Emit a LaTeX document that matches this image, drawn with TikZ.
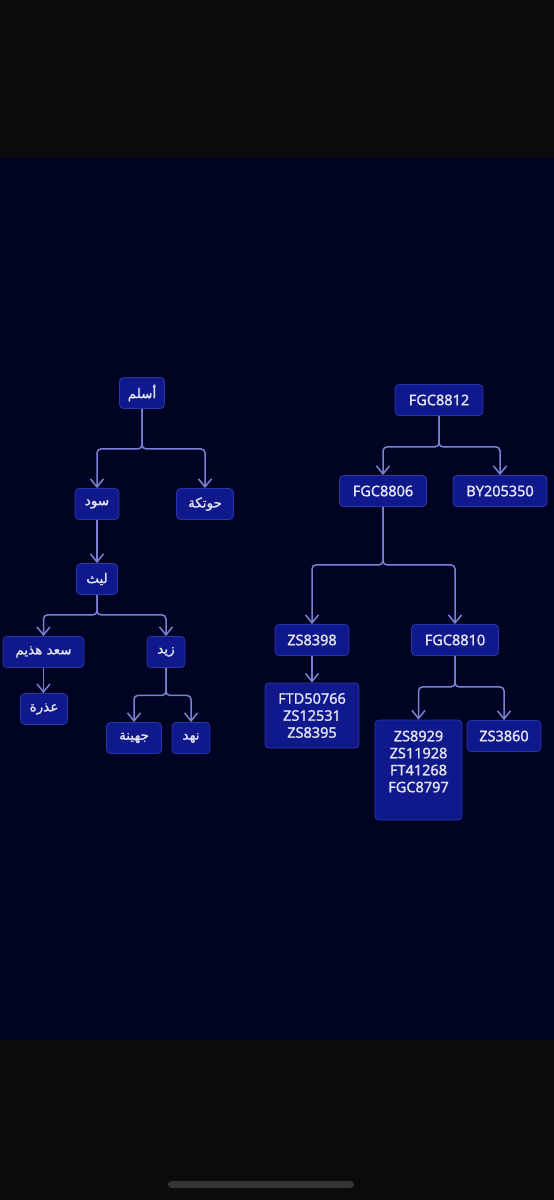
\documentclass[tikz,border=0pt]{standalone}
\usepackage{fontspec}
\setmainfont{Noto Sans}[FakeBold=1.2]
\newfontfamily\arabicfont[Script=Arabic,FakeBold=1.2]{DejaVu Sans}
\TeXXeTstate=1
\usetikzlibrary{arrows.meta}
\definecolor{screengrey}{HTML}{0B0B0B}
\definecolor{navybg}{HTML}{000322}
\definecolor{boxblue}{HTML}{10198C}
\definecolor{boxedge}{HTML}{2A36A8}
\definecolor{linkblue}{HTML}{7A82D4}
\definecolor{labelgrey}{HTML}{E4E4F2}
\definecolor{homebar}{HTML}{343434}
\newcommand{\arname}[1]{{\arabicfont\fontsize{13.5}{17}\selectfont\beginR #1\endR}}
\tikzstyle{hap} = [rectangle, rounded corners=4pt, minimum height=31pt, inner xsep=4pt, text centered, align=center, draw=boxedge, fill=boxblue, text=labelgrey, font=\fontsize{14.5}{17}\selectfont, line width=0.8pt]
\tikzstyle{arrow} = [draw=linkblue, line width=1.5pt, rounded corners=4pt, -{Straight Barb[length=8pt,width=13pt]}]

\begin{document}
\begin{tikzpicture}[x=1pt, y=-1pt]
	%screen
	\fill [screengrey] (0,0) rectangle (554,1200);
	\fill [navybg] (0,158) rectangle (554,1040);
	\fill [homebar, rounded corners=3.5pt] (168,1181) rectangle (354,1188);
	%left tree
	\node (aslam) [hap, minimum width=45pt] at (142,393) {\arname{أسلم}};
	\node (sawd) [hap, minimum width=44pt] at (97,504) {\arname{سود}};
	\node (hawtaka) [hap, minimum width=57pt] at (205,504) {\arname{حوتكة}};
	\node (layth) [hap, minimum width=41pt] at (97,579) {\arname{ليث}};
	\node (saad) [hap, minimum width=81pt] at (43.5,652) {\arname{سعد هذيم}};
	\node (zayd) [hap, minimum width=38pt] at (166,652) {\arname{زيد}};
	\node (udhra) [hap, minimum width=47pt] at (44,709) {\arname{عذرة}};
	\node (juhayna) [hap, minimum width=55pt] at (134,738) {\arname{جهينة}};
	\node (nahd) [hap, minimum width=38pt] at (191,738) {\arname{نهد}};
	%right tree
	\node (fgc8812) [hap, minimum width=88pt] at (439,400) {FGC8812};
	\node (fgc8806) [hap, minimum width=87pt] at (383,491) {FGC8806};
	\node (by205350) [hap, minimum width=94pt] at (500,491) {BY205350};
	\node (zs8398) [hap, minimum width=74pt] at (312,640) {ZS8398};
	\node (fgc8810) [hap, minimum width=87pt] at (455,640) {FGC8810};
	\node (ftd50766) [hap, minimum width=94pt, minimum height=65pt] at (312,715.5) {FTD50766\\ZS12531\\ZS8395};
	\node (zs8929) [hap, minimum width=87pt, minimum height=100pt] at (418.5,770) {ZS8929\\ZS11928\\FT41268\\FGC8797\\\mbox{}};
	\node (zs3860) [hap, minimum width=74pt] at (504,736) {ZS3860};
	%lines
	\draw [arrow] (aslam.south) -- ++(0,40) -| (sawd.north);
	\draw [arrow] (aslam.south) -- ++(0,40) -| (hawtaka.north);
	\draw [arrow] (sawd) -- (layth);
	\draw [arrow] (layth.south) -- ++(0,20) -| (saad.north);
	\draw [arrow] (layth.south) -- ++(0,20) -| (zayd.north);
	\draw [arrow] (saad) -- (saad.south |- udhra.north);
	\draw [arrow] (zayd.south) -- ++(0,27.5) -| (juhayna.north);
	\draw [arrow] (zayd.south) -- ++(0,27.5) -| (nahd.north);
	\draw [arrow] (fgc8812.south) -- ++(0,31) -| (fgc8806.north);
	\draw [arrow] (fgc8812.south) -- ++(0,31) -| (by205350.north);
	\draw [arrow] (fgc8806.south) -- ++(0,58) -| (zs8398.north);
	\draw [arrow] (fgc8806.south) -- ++(0,58) -| (fgc8810.north);
	\draw [arrow] (zs8398) -- (ftd50766);
	\draw [arrow] (fgc8810.south) -- ++(0,31) -| (zs8929.north);
	\draw [arrow] (fgc8810.south) -- ++(0,31) -| (zs3860.north);
\end{tikzpicture}
\end{document}
